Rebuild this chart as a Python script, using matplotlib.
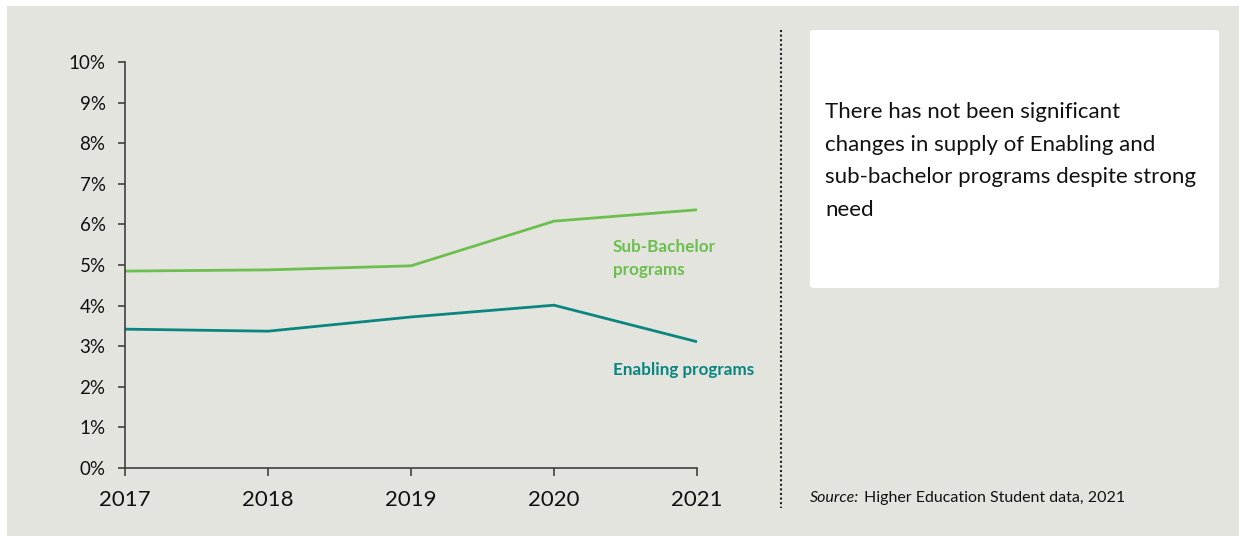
import matplotlib.pyplot as plt
from matplotlib.patches import FancyBboxPatch, Rectangle
from matplotlib.ticker import PercentFormatter

plt.rcParams['font.family'] = ['Lato', 'DejaVu Sans']

years = [2017, 2018, 2019, 2020, 2021]
sub_bachelor = [0.0485, 0.0488, 0.0498, 0.0608, 0.0636]
enabling = [0.0342, 0.0337, 0.0372, 0.0401, 0.0311]

GREEN = '#6cbf4e'
TEAL = '#0a8580'
BG = '#e4e4df'

W, H = 1239, 536
fig = plt.figure(figsize=(W / 100, H / 100), dpi=100)
fig.patch.set_facecolor('white')


def px(x, y):
    # pixel position (from top-left) -> figure fraction
    return x / W, 1 - y / H


# grey panel behind everything
fig.patches.append(Rectangle(px(7, 536), (W - 7) / W, (536 - 6) / H,
                             transform=fig.transFigure, facecolor=BG,
                             edgecolor='none', zorder=-10))

ax = fig.add_axes([125 / W, 1 - 468 / H, (697 - 125) / W, (468 - 62) / H])
ax.set_facecolor('none')
ax.plot(years, sub_bachelor, color=GREEN, lw=2.0, solid_capstyle='butt')
ax.plot(years, enabling, color=TEAL, lw=2.0, solid_capstyle='butt')

ax.set_xlim(2017, 2021)
ax.set_ylim(0, 0.10)
ax.set_xticks(years)
ax.set_yticks([i / 100 for i in range(11)])
ax.yaxis.set_major_formatter(PercentFormatter(1.0, decimals=0))
for s in ['top', 'right']:
    ax.spines[s].set_visible(False)
for s in ['left', 'bottom']:
    ax.spines[s].set_color('#404040')
    ax.spines[s].set_linewidth(1.2)
ax.tick_params(axis='y', length=5, width=1.2, color='#404040', labelsize=13.5,
               pad=9, labelcolor='#111111')
ax.tick_params(axis='x', length=6, width=1.2, color='#404040', labelsize=16,
               pad=10, labelcolor='#111111')

ax.text(2020.41, 0.0516, 'Sub-Bachelor\nprograms', color=GREEN,
        fontsize=12.3, fontweight='bold', va='center', ha='left', linespacing=1.6)
ax.text(2020.41, 0.0241, 'Enabling programs', color=TEAL,
        fontsize=12.3, fontweight='bold', va='center', ha='left')

# dotted divider
fig.add_artist(plt.Line2D([781 / W, 781 / W], [1 - 30 / H, 1 - 508 / H],
                          transform=fig.transFigure, color='#222222',
                          lw=1.5, ls=(0, (1, 1.2))))

# commentary box
x0, y0 = px(810, 288)
fig.patches.append(FancyBboxPatch((x0, y0), (1219 - 810) / W, (288 - 30) / H,
                                  boxstyle='round,pad=0,rounding_size=0.004',
                                  transform=fig.transFigure, facecolor='white',
                                  edgecolor='none'))
fig.text(*px(825, 161), 'There has not been significant\n'
         'changes in supply of Enabling and\n'
         'sub-bachelor programs despite strong\n'
         'need', fontsize=16, color='#111111', va='center', ha='left',
         linespacing=1.78)

src = fig.text(*px(810, 498), 'Source:', fontsize=11.5, fontstyle='italic',
               color='#111111', va='center', ha='left')
fig.canvas.draw()
bb = src.get_window_extent()
fig.text((bb.x1 + 5) / W, 1 - 498 / H, 'Higher Education Student data, 2021',
         fontsize=11.5, color='#111111', va='center', ha='left')

fig.savefig('out.png', dpi=100)
